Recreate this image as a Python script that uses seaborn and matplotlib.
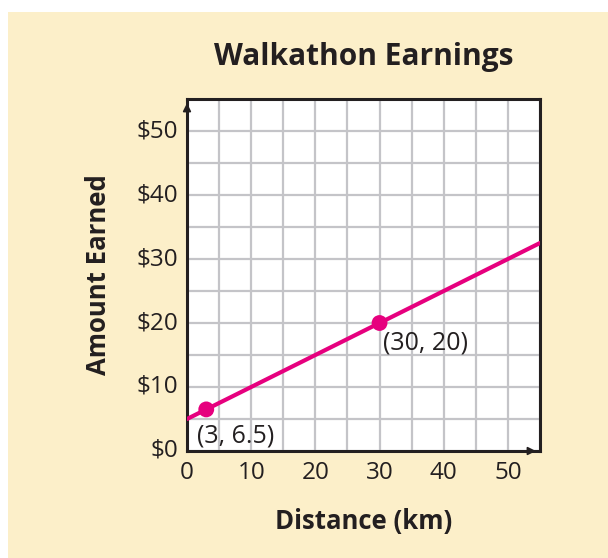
import matplotlib
matplotlib.use("Agg")
import matplotlib.pyplot as plt
import seaborn as sns
import pandas as pd

# Data
line_x = [0, 55]
line_y = [5, 32.5]
point_x = [3, 30]
point_y = [6.5, 20]
point_labels = ["(3, 6.5)", "(30, 20)"]
x_ticks = [0, 10, 20, 30, 40, 50]
y_ticks = [0, 10, 20, 30, 40, 50]
y_tick_labels = ["$0", "$10", "$20", "$30", "$40", "$50"]

sns.set_style("white")
plt.rcParams['font.family'] = ['Open Sans', 'DejaVu Sans']

cream = "#fcefc9"
magenta = "#e6007e"
ink = "#231f20"

fig = plt.figure(figsize=(6.08, 5.58), dpi=100)
fig.patch.set_facecolor("white")
fig.patches.append(plt.Rectangle((8/608, 0), 1, 1 - 12/558, transform=fig.transFigure,
                                 facecolor=cream, edgecolor="none", zorder=-10))

ax = fig.add_axes([187/608, 1 - 451/558, 353/608, 352/558])
ax.set_facecolor("white")

line_df = pd.DataFrame({"x": line_x, "y": line_y})
pts_df = pd.DataFrame({"x": point_x, "y": point_y})

sns.lineplot(data=line_df, x="x", y="y", ax=ax, color=magenta, linewidth=3.0, zorder=5)
sns.scatterplot(data=pts_df, x="x", y="y", ax=ax, color=magenta, s=130, edgecolor="none", zorder=6)

ax.set_xlim(0, 55)
ax.set_ylim(0, 55)
ax.set_xticks(range(0, 56, 5))
ax.set_yticks(range(0, 56, 5))
ax.grid(True, color="#c4c4c8", linewidth=1.6, zorder=0)
ax.set_axisbelow(True)
ax.tick_params(axis="both", which="major", length=0, labelbottom=False, labelleft=False)

for xv in x_ticks:
    ax.text(xv, -1.6, str(xv), ha="center", va="top", fontsize=17.5, color=ink)
for yv, lab in zip(y_ticks, y_tick_labels):
    ax.text(-1.4, yv, lab, ha="right", va="center", fontsize=17.5, color=ink)

for sp in ax.spines.values():
    sp.set_visible(True)
    sp.set_color(ink)
    sp.set_linewidth(2.2)

ax.annotate("", xy=(0, 54.8), xytext=(0, 51.5),
            arrowprops=dict(arrowstyle="-|>", color=ink, lw=1.2, mutation_scale=12),
            annotation_clip=False, zorder=10)
ax.annotate("", xy=(54.8, 0), xytext=(51.5, 0),
            arrowprops=dict(arrowstyle="-|>", color=ink, lw=1.2, mutation_scale=12),
            annotation_clip=False, zorder=10)

ax.text(1.5, 2.3, point_labels[0], ha="left", va="center", fontsize=18, color=ink, zorder=7)
ax.text(30.6, 16.8, point_labels[1], ha="left", va="center", fontsize=18, color=ink, zorder=7)

ax.set_xlabel("")
ax.set_ylabel("")
fig.text(364/608, 1 - 57/558, "Walkathon Earnings", ha="center", va="center",
         fontsize=21.5, fontweight="bold", color=ink)
fig.text(364/608, 1 - 522/558, "Distance (km)", ha="center", va="center",
         fontsize=18.5, fontweight="bold", color=ink)
fig.text(98/608, 1 - 275/558, "Amount Earned", ha="center", va="center", rotation=90,
         fontsize=18.5, fontweight="bold", color=ink)

fig.savefig("out.png", dpi=100, facecolor=fig.get_facecolor())
